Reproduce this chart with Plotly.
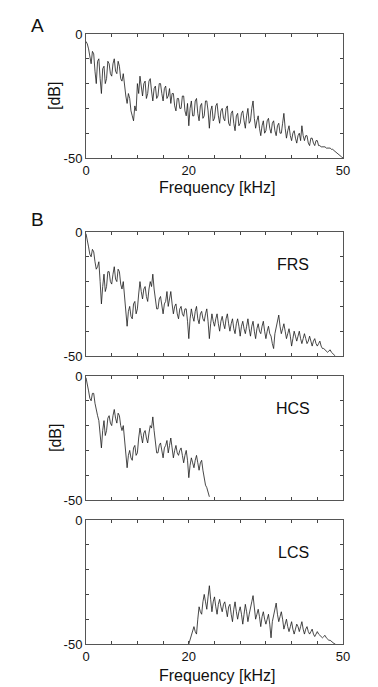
import plotly.graph_objects as go

# ---- data, 0.25 kHz steps ----
db_a = [-3, -4, -6, -9, -12, -7, -8, -15, -20, -11, -10, -18, -24, -14, -13, -20, -18, -11, -12, -16,
        -17, -12, -10, -15, -16, -11, -13, -18, -19, -16, -22, -25, -28, -24, -26, -31, -33, -35, -29, -31,
        -20, -24, -17, -22, -25, -20, -19, -26, -24, -19, -18, -23, -27, -22, -21, -26, -25, -20, -20, -24,
        -27, -22, -21, -26, -25, -22, -28, -24, -24, -29, -31, -26, -26, -30, -30, -25, -25, -31, -33, -28,
        -37, -30, -27, -33, -33, -27, -26, -32, -35, -29, -28, -34, -33, -27, -27, -31, -38, -31, -29, -35,
        -34, -29, -28, -33, -36, -31, -30, -34, -35, -30, -29, -36, -37, -32, -31, -36, -39, -33, -32, -37,
        -36, -32, -31, -35, -38, -33, -30, -36, -35, -30, -27, -34, -38, -35, -33, -38, -41, -37, -35, -40,
        -39, -35, -34, -38, -40, -36, -35, -39, -41, -37, -36, -40, -40, -36, -32, -38, -42, -39, -37, -41,
        -43, -40, -39, -42, -44, -41, -40, -43, -37, -41, -43, -41, -41, -44, -45, -42, -42, -44, -45, -43,
        -43, -45, -45, -45.5, -45.5, -45.5, -45.5, -46, -46, -46, -46, -46.5, -46.5, -47, -47.5, -48, -48.5, -49, -49.3, -49.6,
        -50]

db_frs = [-0.7, -3, -6, -9, -10, -7, -8, -12, -15, -14, -12, -20, -29, -22, -17, -24, -22, -16, -16, -20,
          -21, -17, -14, -19, -20, -15, -16, -21, -23, -20, -27, -30, -38, -32, -30, -34, -35, -29, -28, -33,
          -31, -25, -20, -24, -27, -23, -22, -26, -28, -23, -20, -22, -17, -23, -27, -31, -31, -27, -26, -30,
          -33, -29, -28, -24, -30, -27, -24, -29, -33, -30, -29, -33, -35, -31, -30, -33, -34, -31, -31, -36,
          -43, -35, -31, -34, -36, -32, -30, -35, -37, -33, -32, -35, -36, -33, -31, -36, -43, -37, -33, -36,
          -38, -35, -33, -37, -40, -36, -34, -37, -39, -35, -33, -37, -40, -37, -35, -39, -41, -37, -35, -38,
          -42, -38, -36, -39, -41, -38, -35, -39, -42, -38, -36, -40, -43, -39, -37, -40, -41, -38, -36, -40,
          -43, -40, -38, -41, -42, -45, -47, -41, -38, -35, -33.5, -38, -41, -39, -37, -40, -43, -41, -39, -42,
          -46, -43, -40, -42, -44, -42, -40, -43, -45, -43, -41, -43, -45, -44, -42, -44, -46, -44, -43, -45,
          -46, -45, -44, -46, -47, -47, -47.5, -48, -48.5, -48, -47.5, -48.5, -49, -49.5, -50]

db_hcs = [-0.7, -3, -6, -9, -10, -7, -7, -11, -14, -16, -18, -23, -29, -22, -18, -24, -22, -17, -16, -19,
          -20, -16, -13.5, -17, -19, -15, -16, -20, -22, -20, -26, -30, -37, -32, -30, -33, -34, -29, -28, -32,
          -31, -25, -21, -24, -27, -23, -22, -25, -27, -23, -20, -21, -16.5, -22, -27, -31, -31, -28, -27, -30,
          -33, -29, -28, -26, -31, -28, -25, -29, -33, -30, -28, -31, -32, -30, -29, -32, -35, -32, -30, -34,
          -41, -36, -33, -35, -37, -34, -32, -35, -38, -35, -34, -38, -42, -44, -45, -47, -48.7]

db_lcs = [-50, -48, -46, -44, -43, -45, -46, -40, -35, -37, -38, -33, -30, -33, -36, -31, -26.5, -32, -37, -33,
          -31, -35, -38, -34, -32, -35, -37, -34, -33, -36, -39, -35, -34, -38, -41, -36, -33, -37, -40, -37,
          -35, -38, -42, -38, -34, -37, -41, -38, -36, -33, -30.5, -36, -40, -38, -36, -39, -43, -39, -37, -40,
          -42, -40, -38, -42, -47.5, -41, -38, -35, -33.5, -38, -41, -39, -37, -40, -44, -42, -40, -43, -45, -43,
          -41, -44, -46, -44, -42, -43, -45, -43, -41, -44, -46, -44, -43, -45, -46, -45, -44, -46, -47, -46,
          -45, -46, -46.5, -47, -47.5, -47, -46.5, -47.5, -48, -48.5, -48.5, -49, -49.5, -49.8, -50]

freq_a = [i * 0.25 for i in range(len(db_a))]           # 0 .. 50 kHz
freq_frs = [i * 0.25 for i in range(len(db_frs))]       # 0 .. 48.5 kHz
freq_hcs = [i * 0.25 for i in range(len(db_hcs))]       # 0 .. 24 kHz
freq_lcs = [20 + i * 0.25 for i in range(len(db_lcs))]  # 20 .. 48.5 kHz

x_ticks = [0, 5, 10, 15, 20, 25, 30, 35, 40, 45, 50]
x_labels = ["0", "", "", "", "20", "", "", "", "", "", "50"]
y_ticks = [-50, -40, -30, -20, -10, 0]
y_labels = ["-50", "", "", "", "", "0"]
panel_names = ["FRS", "HCS", "LCS"]

# page has an 8px body margin: figure starts at (8, 8)
OFF = 8
W, H = 378 - OFF, 687 - OFF
FONT = "Liberation Sans, Arial, Helvetica, sans-serif"

def px_y(p):
    return 1 - (p - OFF) / H

def px_x(p):
    return (p - OFF) / W

# panel pixel boxes (top, bottom) in window pixels
boxes = [(34, 158), (232, 356), (376, 500), (520, 644)]
xdom = [px_x(86), px_x(343)]

series = [(freq_a, db_a), (freq_frs, db_frs), (freq_hcs, db_hcs), (freq_lcs, db_lcs)]
show_xlab = [True, False, False, True]

fig = go.Figure()
layout = dict(
    width=W, height=H,
    margin=dict(l=0, r=0, t=0, b=0, pad=0, autoexpand=False),
    paper_bgcolor="white", plot_bgcolor="white",
    showlegend=False,
    font=dict(family=FONT, size=13, color="#111"),
)

for i, ((fx, fy), (top, bot)) in enumerate(zip(series, boxes)):
    n = "" if i == 0 else str(i + 1)
    fig.add_trace(go.Scatter(x=fx, y=fy, mode="lines",
                             line=dict(color="#1a1a1a", width=0.8),
                             xaxis="x" + n, yaxis="y" + n,
                             hoverinfo="skip"))
    layout["xaxis" + n] = dict(
        domain=xdom, anchor="y" + n, range=[0, 50],
        tickmode="array", tickvals=x_ticks,
        ticktext=x_labels if show_xlab[i] else [""] * len(x_ticks),
        ticks="inside", ticklen=3, tickcolor="#444",
        showline=True, linecolor="#555", linewidth=1, mirror="allticks",
        showgrid=False, zeroline=False, automargin=False,
        tickfont=dict(size=13, family=FONT, color="#111"),
    )
    layout["yaxis" + n] = dict(
        domain=[px_y(bot), px_y(top)], anchor="x" + n, range=[-50, 0],
        tickmode="array", tickvals=y_ticks, ticktext=y_labels,
        ticks="inside", ticklen=3, tickcolor="#444",
        showline=True, linecolor="#555", linewidth=1, mirror="allticks",
        showgrid=False, zeroline=False, automargin=False,
        tickfont=dict(size=13, family=FONT, color="#111"),
        ticklabelstandoff=0,
    )

fig.update_layout(**layout)

def label(text, x, y, size, angle=0):
    return dict(text=text, x=px_x(x), y=px_y(y), xref="paper", yref="paper",
                xanchor="center", yanchor="middle", showarrow=False,
                textangle=angle, font=dict(size=size, family=FONT, color="#111"))

ann = [label("A", 37, 25, 19), label("B", 37, 219, 19)]
for name, (top, bot) in zip(panel_names, boxes[1:]):
    ann.append(label(name, 293, top + 32, 16))
for yc in [188, 675]:
    ann.append(label("Frequency [kHz]", 217, yc, 16))
for yc in [96, 438]:
    ann.append(label("[dB]", 55, yc, 16, angle=-90))
fig.update_layout(annotations=ann)

fig.write_html("out.html")
